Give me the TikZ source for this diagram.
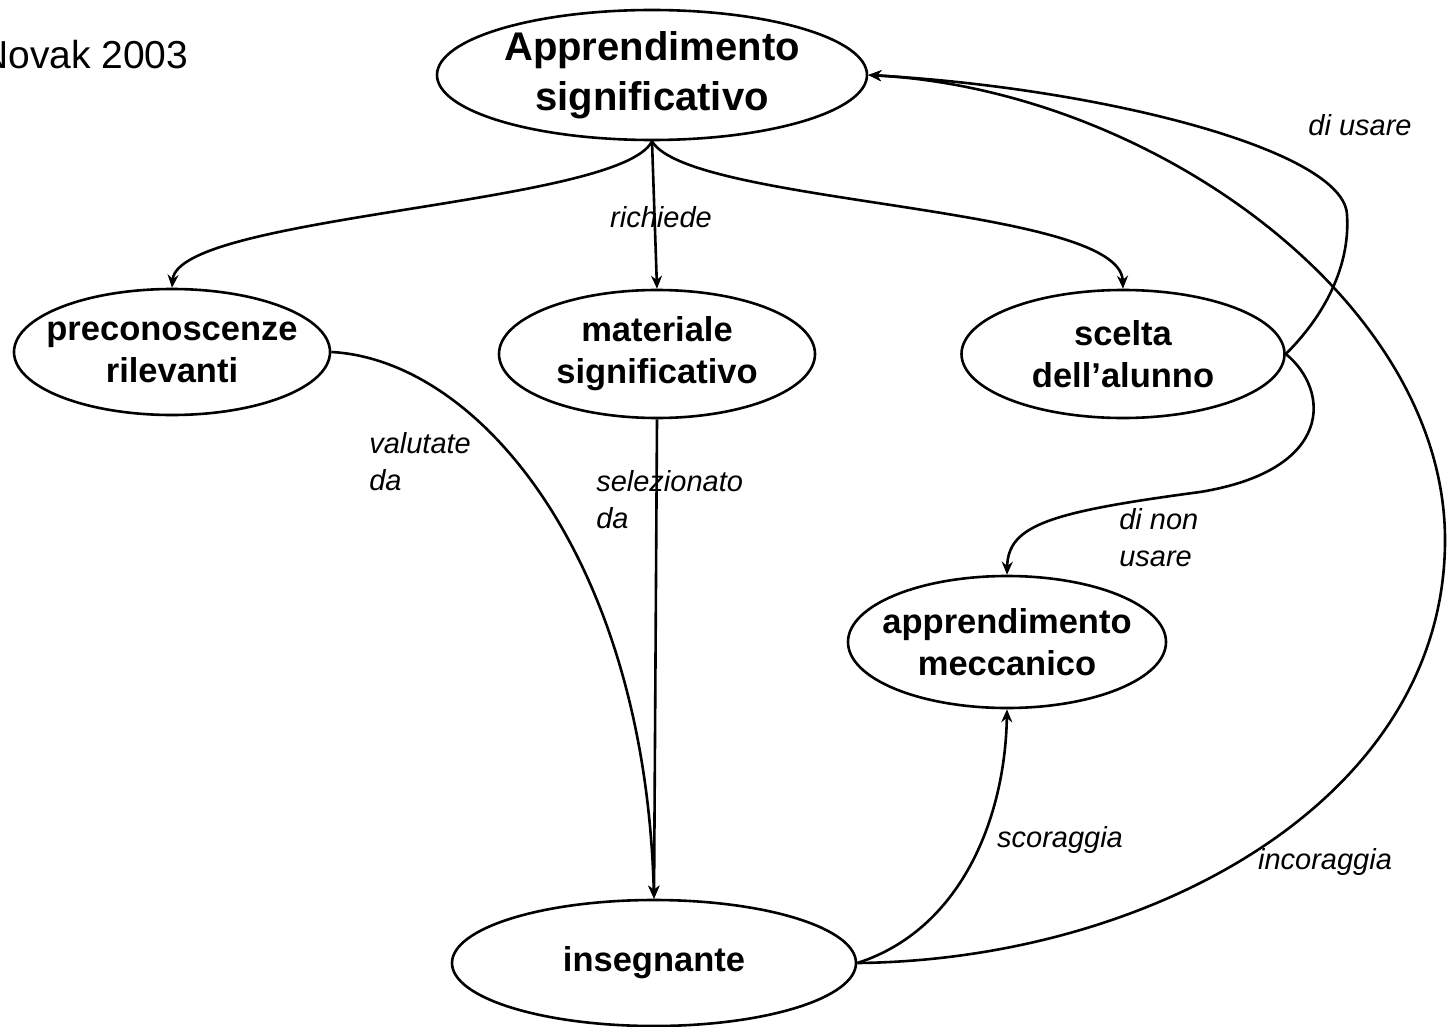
\documentclass[tikz,border=0pt]{standalone}
\usepackage{fontspec}
\setmainfont{Liberation Sans}
\usetikzlibrary{shapes.geometric,arrows.meta}
\begin{document}
\begin{tikzpicture}[x=1pt,y=-1pt,
  line width=2.6pt,
  concept/.style={ellipse,draw,inner sep=0pt},
  ctext/.style={font=\bfseries\fontsize{34.5}{42}\selectfont,align=center,inner sep=0pt},
  link/.style={-{Stealth[length=13pt,width=11pt]}},
  lbl/.style={font=\itshape\fontsize{29}{37}\selectfont,inner sep=0pt},
  lblL/.style={lbl,align=left,anchor=west}]
\useasboundingbox (0,0) rectangle (1447,1027);
\clip (0,0) rectangle (1447,1027);

% source line
\node[anchor=base west,inner sep=0pt,font=\fontsize{39}{44}\selectfont] (src) at (-21,69) {Novak 2003};

% concepts
\node[concept,minimum width=430,minimum height=130,
  label={[font=\bfseries\fontsize{40}{50}\selectfont,align=center,inner sep=0pt]center:{Apprendimento\\significativo}}]
  (app) at (652,75) {};
\node[concept,minimum width=316,minimum height=126,
  label={[ctext]center:{preconoscenze\\rilevanti}}] (pre) at (172,352) {};
\node[concept,minimum width=316,minimum height=128,
  label={[ctext]center:{materiale\\significativo}}] (mat) at (657,354) {};
\node[concept,minimum width=323,minimum height=128,
  label={[ctext]center:{scelta\\dell'alunno}}] (sce) at (1123,354) {};
\node[concept,minimum width=318,minimum height=132,
  label={[ctext]center:{apprendimento\\meccanico}}] (mec) at (1007,642) {};
\node[concept,minimum width=404,minimum height=126,
  label={[ctext]center:{insegnante}}] (ins) at (654,963) {};

% links from the top concept
\draw[link] (app.south) .. controls (620,205) and (178,215) .. (pre.north);
\draw[link] (app.south) -- (mat.north);
\draw[link] (app.south) .. controls (690,205) and (1120,205) .. (sce.north);
\node[lbl] (l1) at (661,217) {richiede};

% links into insegnante
\draw[link] (pre.east) .. controls (480,360) and (645,560) .. (ins.north);
\draw[link] (mat.south) -- (ins.north);
\node[lblL] (l2) at (368,462) {valutate\\da};
\node[lblL] (l3) at (595,500) {selezionato\\da};

% choices of the pupil
\coordinate (u1) at (1347,215);
\draw[link] (sce.east) .. controls (1330,310) and (1350,260) .. (u1)
  .. controls (1345,150) and (1100,88) .. (app.east);
\node[lbl] (l4) at (1360,125) {di usare};

\coordinate (n1) at (1200,492);
\draw[link] (sce.east) .. controls (1330,390) and (1335,470) .. (n1)
  .. controls (1050,512) and (1008,525) .. (mec.north);
\node[lblL] (l5) at (1118,538) {di non\\usare};

% what the teacher does
\draw[link] (ins.east) .. controls (960,930) and (1005,820) .. (mec.south);
\node[lbl] (l6) at (1060,840) {scoraggia};

\coordinate (c1) at (1445,540);
\draw[link] (ins.east) .. controls (1150,960) and (1445,800) .. (c1)
  .. controls (1445,300) and (1150,90) .. (app.east);
\node[lbl] (l7) at (1325,862) {incoraggia};
\end{tikzpicture}
\end{document}
